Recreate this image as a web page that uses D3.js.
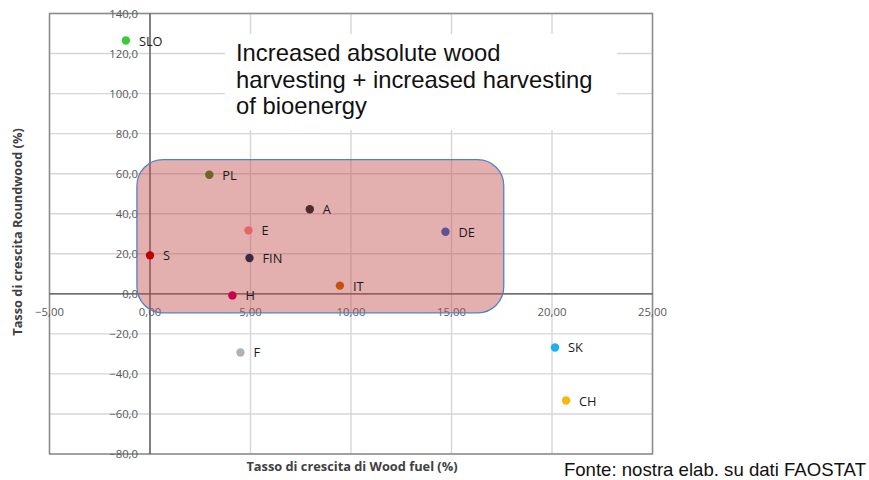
<!DOCTYPE html>
<html><head><meta charset="utf-8">
<script src="https://cdn.jsdelivr.net/npm/d3@7"></script>
<style>
html,body{margin:0;padding:0;background:#fff;}
svg{display:block;}
</style></head>
<body>
<svg id="chart" width="869" height="480"></svg>
<script>
const countries = ["SLO","PL","A","E","DE","S","FIN","H","IT","F","SK","CH"];
const woodFuel   = [-1.2, 2.95, 7.95, 4.9, 14.7, 0.0, 4.95, 4.1, 9.45, 4.5, 20.15, 20.7];
const roundwood  = [126.5, 59.5, 42.2, 31.7, 31.0, 19.2, 17.9, -0.8, 4.1, -29.3, -26.8, -53.3];
const colors     = ["#3cc93c","#6e6428","#4e2a2a","#e66464","#5c5294","#c00000","#3c2a44","#c8004e","#c8500f","#b2b2b2","#1cb0ec","#f8b808"];
const xTicks = [-5,0,5,10,15,20,25];
const yTicks = [-80,-60,-40,-20,0,20,40,60,80,100,120,140];
const xTitle = "Tasso di crescita di Wood fuel (%)";
const yTitle = "Tasso di crescita Roundwood (%)";
const noteLines = ["Increased absolute wood","harvesting + increased harvesting","of bioenergy"];
const source = "Fonte: nostra elab. su dati FAOSTAT";
const zone = {x0:-0.65, x1:17.6, y0:-9.5, y1:67};

const svg = d3.select("#chart");
const x = d3.scaleLinear().domain([-5,25]).range([49.5,652.5]);
const y = d3.scaleLinear().domain([-80,140]).range([454,13.5]);
const fmtX = d => d3.format(".2f")(d).replace(".",",");
const fmtY = d => d3.format(".1f")(d).replace(".",",");

// gridlines
svg.append("g").selectAll("line.v").data(xTicks).join("line")
  .attr("x1",d=>x(d)).attr("x2",d=>x(d)).attr("y1",y(140)).attr("y2",y(-80))
  .attr("stroke","#d6d6d6").attr("stroke-width",1.4);
svg.append("g").selectAll("line.h").data(yTicks).join("line")
  .attr("x1",x(-5)).attr("x2",x(25)).attr("y1",d=>y(d)).attr("y2",d=>y(d))
  .attr("stroke","#d6d6d6").attr("stroke-width",1.4);

// note background (white) covering gridlines
svg.append("rect").attr("x",225).attr("y",34).attr("width",392).attr("height",96).attr("fill","#fff");

// frame
svg.append("rect").attr("x",x(-5)).attr("y",y(140)).attr("width",x(25)-x(-5)).attr("height",y(-80)-y(140))
  .attr("fill","none").attr("stroke","#8c8c8c").attr("stroke-width",1.5);

// axes lines at zero
svg.append("line").attr("x1",x(-5)).attr("x2",x(25)).attr("y1",y(0)).attr("y2",y(0)).attr("stroke","#4d4d4d").attr("stroke-width",1.3);
svg.append("line").attr("x1",x(0)).attr("x2",x(0)).attr("y1",y(140)).attr("y2",y(-80)).attr("stroke","#4d4d4d").attr("stroke-width",1.3);

// tick labels
svg.append("g").selectAll("text").data(yTicks).join("text")
  .attr("x",x(0)-12).attr("y",d=>y(d)+4).attr("text-anchor","end")
  .attr("font-family","Open Sans, sans-serif").attr("font-size",11.3).attr("fill","#595959")
  .text(fmtY);
svg.append("g").selectAll("text").data(xTicks).join("text")
  .attr("x",d=>x(d)).attr("y",y(0)+22).attr("text-anchor","middle")
  .attr("font-family","Open Sans, sans-serif").attr("font-size",11.3).attr("fill","#595959")
  .text(fmtX);

// shaded zone
svg.append("rect")
  .attr("x",x(zone.x0)).attr("y",y(zone.y1))
  .attr("width",x(zone.x1)-x(zone.x0)).attr("height",y(zone.y0)-y(zone.y1))
  .attr("rx",26).attr("ry",26)
  .attr("fill","#c0504d").attr("fill-opacity",0.45)
  .attr("stroke","#4f81c9").attr("stroke-width",1.3);

// points
const data = countries.map((c,i)=>({c, x:woodFuel[i], y:roundwood[i], col:colors[i]}));
svg.append("g").selectAll("circle").data(data).join("circle")
  .attr("cx",d=>x(d.x)).attr("cy",d=>y(d.y)).attr("r",4.2).attr("fill",d=>d.col);
svg.append("g").selectAll("text").data(data).join("text")
  .attr("x",d=>x(d.x)+13).attr("y",d=>y(d.y)+5)
  .attr("font-family","Open Sans, sans-serif").attr("font-size",12.8).attr("fill","#1a1a1a")
  .text(d=>d.c);

// note
svg.append("g").selectAll("text").data(noteLines).join("text")
  .attr("x",236).attr("y",(d,i)=>61+i*26.5)
  .attr("font-family","Liberation Sans, Arial, sans-serif").attr("font-size",23.8).attr("fill","#111")
  .text(d=>d);

// axis titles
svg.append("text").attr("x",352).attr("y",471).attr("text-anchor","middle")
  .attr("font-family","Open Sans, sans-serif").attr("font-weight","bold").attr("font-size",12.8).attr("fill","#404040")
  .text(xTitle);
svg.append("text").attr("transform","translate(22,232) rotate(-90)").attr("text-anchor","middle")
  .attr("font-family","Open Sans, sans-serif").attr("font-weight","bold").attr("font-size",12.8).attr("fill","#404040")
  .text(yTitle);

svg.append("text").attr("x",866).attr("y",476).attr("text-anchor","end")
  .attr("font-family","Liberation Sans, Arial, sans-serif").attr("font-size",18.6).attr("fill","#111")
  .text(source);
</script>
</body></html>
